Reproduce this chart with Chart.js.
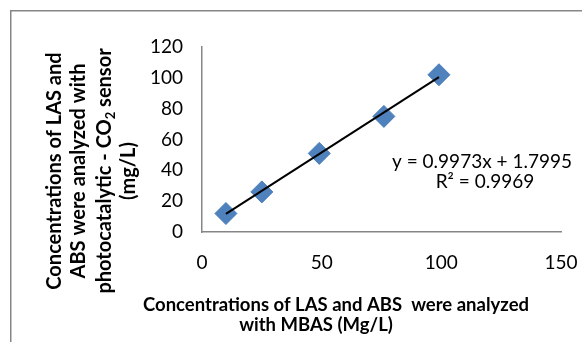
<!DOCTYPE html>
<html lang="en">
<head>
<meta charset="UTF-8">
<title>LAS and ABS: MBAS vs photocatalytic CO2 sensor</title>
<script src="https://cdn.jsdelivr.net/npm/chart.js"></script>
<style>
  html, body { margin: 0; padding: 0; background: #fff; }
  #wrap { width: 582px; height: 342px; }
</style>
</head>
<body>
<div id="wrap"><canvas id="chart" width="582" height="342"></canvas></div>
<script>
// MBAS readings (x) against photocatalytic CO2 sensor readings (y), mg/L
const mbasValues = [10, 25, 49, 76, 99];
const sensorValues = [12, 26, 51, 75, 102];

// linear trendline end points as drawn on the original
const trendX = [10, 99];
const trendY = [11.8, 100.5];

const xTicks = [0, 50, 100, 150];
const yTicks = [0, 20, 40, 60, 80, 100, 120];

const equationLines = ['y = 0.9973x + 1.7995', 'R² = 0.9969'];
const xTitleLines = ['Concentrations of LAS and ABS  were analyzed', 'with MBAS (Mg/L)'];
// the "2" of CO2 is a subscript, so line 3 is split in pieces
const yTitleLines = [
    [['Concentrations of LAS and']],
    [['ABS were analyzed with']],
    [['photocatalytic - CO'], ['2', 'sub'], [' sensor']],
    [['(mg/L)']]
];

const FONT = 'Lato, "Open Sans", sans-serif';
const GREY = '#868686';

// draw a line of text made of pieces, some of them subscript
function drawPieces(ctx, pieces, cx, y, size) {
    let total = 0;
    pieces.forEach(p => {
        ctx.font = `bold ${p[1] ? size * 0.65 : size}px ${FONT}`;
        total += ctx.measureText(p[0]).width;
    });
    let x = cx - total / 2;
    pieces.forEach(p => {
        ctx.font = `bold ${p[1] ? size * 0.65 : size}px ${FONT}`;
        ctx.fillText(p[0], x, p[1] ? y + size * 0.22 : y);
        x += ctx.measureText(p[0]).width;
    });
}

const decorations = {
    id: 'decorations',
    beforeDraw(chart) {
        const ctx = chart.ctx;
        ctx.save();
        ctx.fillStyle = '#fff';
        ctx.fillRect(0, 0, chart.width, chart.height);
        // outer chart frame, cut by the right and bottom edges
        ctx.strokeStyle = GREY;
        ctx.lineWidth = 1.5;
        ctx.strokeRect(10.75, 10.75, 700, 500);
        ctx.restore();
    },
    afterDraw(chart) {
        const ctx = chart.ctx;
        ctx.save();
        ctx.fillStyle = '#000';
        ctx.textBaseline = 'alphabetic';

        // x axis title
        ctx.textAlign = 'center';
        ctx.font = `bold 18.5px ${FONT}`;
        ctx.fillText(xTitleLines[0], 336, 311);
        ctx.fillText(xTitleLines[1], 316, 331);

        // y axis title, rotated
        ctx.save();
        ctx.translate(0, 171);
        ctx.rotate(-Math.PI / 2);
        ctx.textAlign = 'left';
        const baselines = [61, 85, 111, 135];
        yTitleLines.forEach((line, i) => drawPieces(ctx, line, 0, baselines[i], 20));
        ctx.restore();

        // trendline equation
        ctx.textAlign = 'center';
        ctx.font = `19px ${FONT}`;
        ctx.fillText(equationLines[0], 482, 168);
        ctx.fillText(equationLines[1], 485, 188);
        ctx.restore();
    }
};

const ctx = document.getElementById('chart').getContext('2d');
new Chart(ctx, {
    type: 'scatter',
    data: {
        datasets: [{
            label: 'Trendline',
            type: 'line',
            data: trendX.map((x, i) => ({ x: x, y: trendY[i] })),
            borderColor: '#000',
            borderWidth: 2,
            pointRadius: 0,
            fill: false,
            showLine: true,
            order: 0
        }, {
            label: 'Readings',
            data: mbasValues.map((x, i) => ({ x: x, y: sensorValues[i] })),
            pointStyle: 'rectRot',
            pointRadius: 11,
            backgroundColor: '#4F81BD',
            borderColor: '#4A7EBB',
            borderWidth: 1,
            order: 1
        }]
    },
    options: {
        responsive: false,
        animation: false,
        devicePixelRatio: 1,
        layout: { padding: { left: 0, right: 21, top: 47, bottom: 0 } },
        plugins: {
            legend: { display: false },
            tooltip: { enabled: false }
        },
        scales: {
            x: {
                type: 'linear',
                min: 0,
                max: 150,
                afterBuildTicks: s => { s.ticks = xTicks.map(v => ({ value: v })); },
                afterFit: s => { s.height = 110; },
                // no tick marks drawn, but the tick length still spaces the labels
                grid: { display: false, drawTicks: true, tickLength: 17 },
                border: { color: GREY, width: 1.5 },
                ticks: { color: '#000', padding: 2, font: { family: FONT, size: 19 } }
            },
            y: {
                type: 'linear',
                min: 0,
                max: 120,
                afterBuildTicks: s => { s.ticks = yTicks.map(v => ({ value: v })); },
                afterFit: s => { s.width = 202; },
                grid: { display: false, drawTicks: true, tickLength: 17 },
                border: { color: GREY, width: 1.5 },
                ticks: { color: '#000', padding: 2, font: { family: FONT, size: 19 } }
            }
        }
    },
    plugins: [decorations]
});
</script>
</body>
</html>
